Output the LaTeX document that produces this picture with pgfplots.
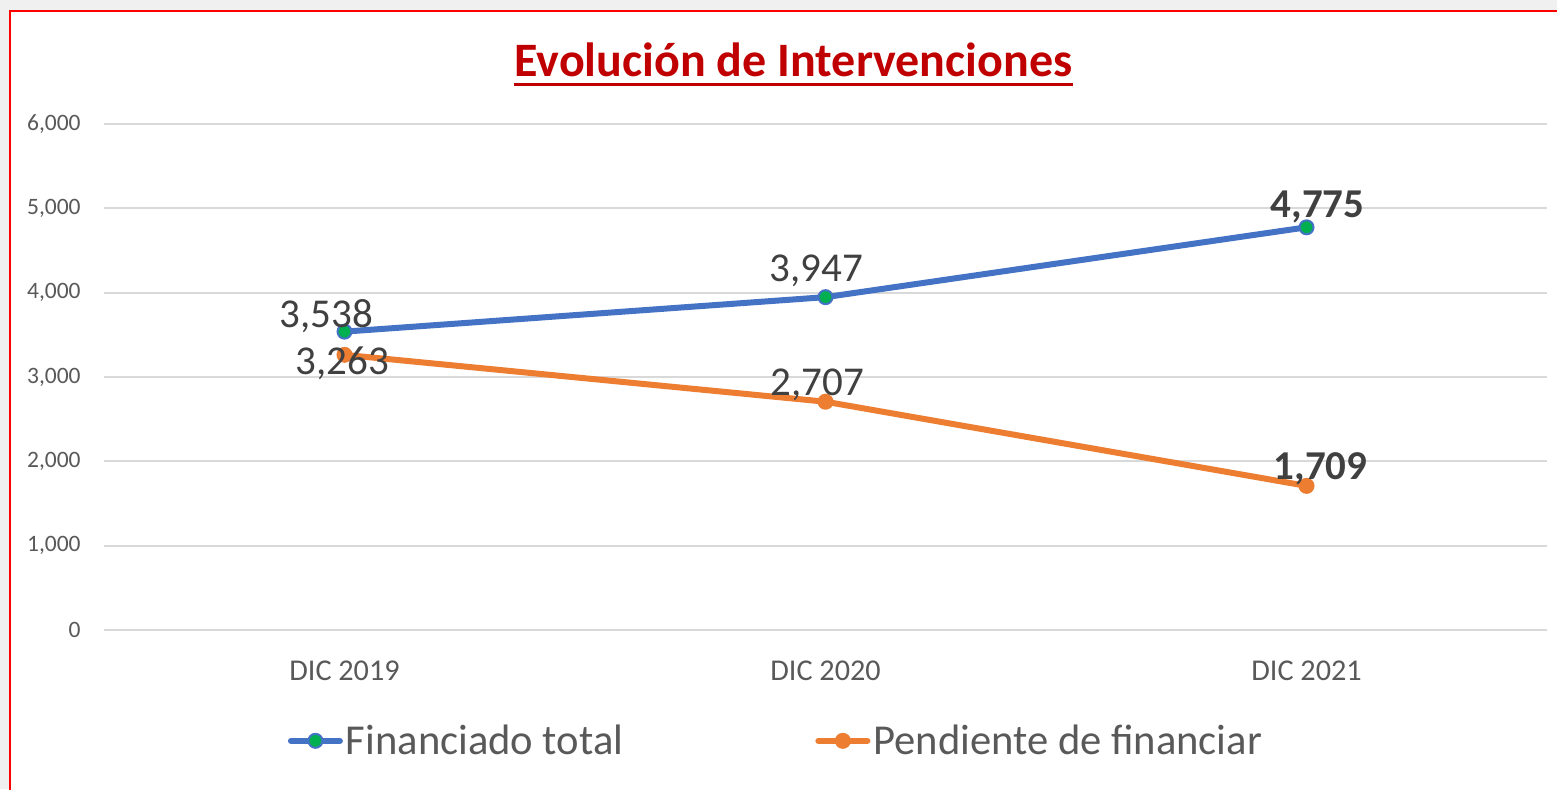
\documentclass[border=0pt]{standalone}
\usepackage{fontspec}
\setmainfont{Carlito}
\usepackage{pgfplots}
\pgfplotsset{compat=1.18}

\definecolor{finblue}{HTML}{4472C4}
\definecolor{penorange}{HTML}{ED7D31}
\definecolor{mkgreen}{HTML}{00B050}
\definecolor{gridgray}{HTML}{D9D9D9}
\definecolor{ticktext}{HTML}{595959}
\definecolor{labeltext}{HTML}{404040}
\definecolor{titlered}{HTML}{C00000}
\definecolor{framegray}{HTML}{F0F0F0}

% one data label: x shift, y shift
\pgfplotsset{
  datalabel/.style 2 args={
    forget plot, draw=none, mark=none,
    nodes near coords, point meta=explicit symbolic,
    every node near coord/.append style={anchor=center, inner sep=0pt,
      xshift=#1, yshift=#2, text=labeltext,
      font=\fontsize{20.5}{24}\selectfont},
  },
  boldlabel/.style={every node near coord/.append style={font=\fontsize{20.5}{24}\selectfont\bfseries}},
}

\begin{document}
\begin{tikzpicture}
\clip (0pt,0pt) rectangle (778.5pt,394.5pt);
\fill[framegray] (0pt,0pt) rectangle (778.5pt,394.5pt);
\filldraw[fill=white, draw=red, line width=1pt] (4.75pt,-10pt) rectangle (790pt,388.75pt);

\node[anchor=base, inner sep=0pt, text=titlered,
      font=\fontsize{24}{28}\selectfont\bfseries] (titlenode) at (396.75pt,356.15pt)
      {Evolución de Intervenciones};
\draw[titlered, line width=1.5pt] ([yshift=-4.15pt]titlenode.base west) -- ([yshift=-4.15pt]titlenode.base east);

\begin{axis}[
  at={(52pt,79.5pt)}, anchor=south west, scale only axis,
  width=721.5pt, height=253pt,
  xmin=-0.5, xmax=2.5, ymin=0, ymax=6000,
  xtick={0,1,2}, xticklabels={DIC 2019,DIC 2020,DIC 2021},
  ytick={0,1000,2000,3000,4000,5000,6000},
  yticklabels={0,{1,000},{2,000},{3,000},{4,000},{5,000},{6,000}},
  ymajorgrids, grid style={gridgray, line width=1pt},
  axis line style={draw=none}, major tick style={draw=none},
  clip=false,
  yticklabel style={anchor=east, xshift=-11.5pt, inner sep=0pt,
    font=\fontsize{11.75}{14}\selectfont, text=ticktext},
  xticklabel style={anchor=center, yshift=-20.5pt, inner sep=0pt,
    font=\fontsize{15.1}{18}\selectfont, text=ticktext},
  legend columns=2,
  legend image code/.code={\draw[mark repeat=2, mark phase=2, line cap=round, #1]
    plot coordinates {(0pt,0pt) (12.25pt,0pt) (24.5pt,0pt)};},
  legend style={at={(axis description cs:0.465,-0.219)}, anchor=center,
    draw=none, fill=none, text=ticktext, font=\fontsize{21.3}{25}\selectfont,
    nodes={inner xsep=0pt},
    /tikz/every odd column/.append style={column sep=1.5pt},
    /tikz/every even column/.append style={column sep=96pt}},
]
\addplot[finblue, line width=3pt, mark=*, mark size=3.5pt,
  mark options={fill=mkgreen, draw=finblue, line width=1pt}]
  coordinates {(0,3538) (1,3947) (2,4775)};
\addlegendentry{Financiado total}
\addplot[penorange, line width=3pt, mark=*, mark size=3.5pt,
  mark options={fill=penorange, draw=penorange, line width=1pt}]
  coordinates {(0,3263) (1,2707) (2,1709)};
\addlegendentry{Pendiente de financiar}

\addplot[datalabel={-9pt}{7.6pt}] coordinates {(0,3538) [{3,538}]};
\addplot[datalabel={-4.5pt}{13.2pt}] coordinates {(1,3947) [{3,947}]};
\addplot[datalabel={5.5pt}{10.2pt}, boldlabel] coordinates {(2,4775) [{4,775}]};
\addplot[datalabel={-1pt}{-4.2pt}] coordinates {(0,3263) [{3,263}]};
\addplot[datalabel={-4pt}{8.6pt}] coordinates {(1,2707) [{2,707}]};
\addplot[datalabel={7pt}{8.5pt}, boldlabel] coordinates {(2,1709) [{1,709}]};
\end{axis}
\end{tikzpicture}
\end{document}
